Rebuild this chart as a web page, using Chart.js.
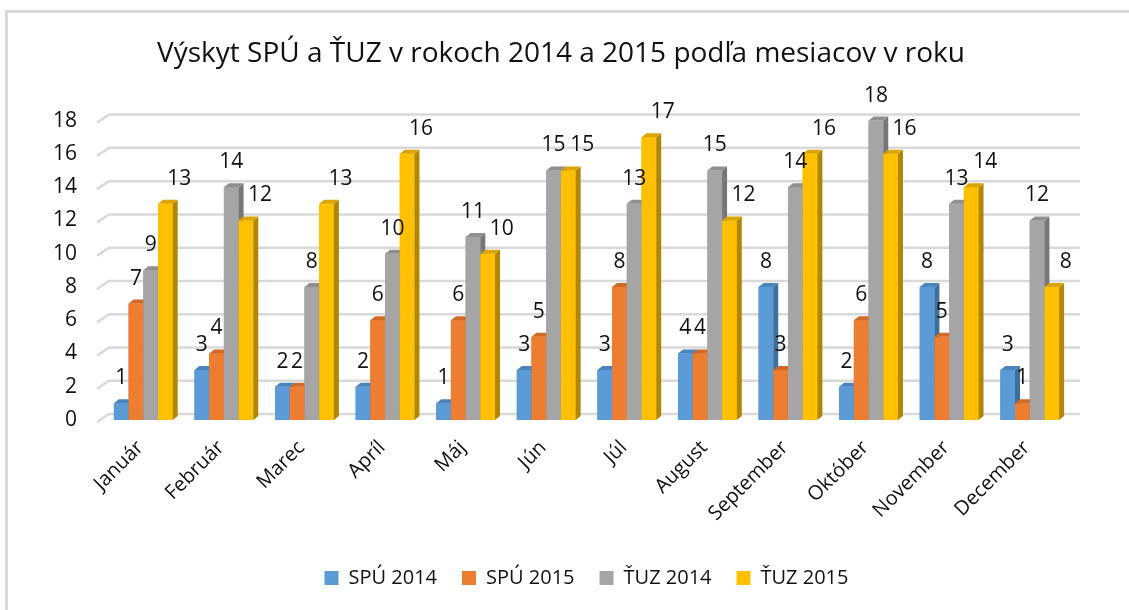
<!DOCTYPE html>
<html>
<head>
<meta charset="utf-8">
<script src="https://cdn.jsdelivr.net/npm/chart.js@4/dist/chart.umd.min.js"></script>
<style>
  html, body { margin: 0; padding: 0; background: #fff; overflow: hidden; }
  #wrap { position: relative; width: 1129px; height: 610px; overflow: hidden; }
  #frame { position: absolute; left: 5px; top: 10px; width: 1200px; height: 700px; border-left: 3px solid #d9d9d9; border-top: 3px solid #d9d9d9; }
  canvas { position: absolute; left: 0; top: 0; }
</style>
</head>
<body>
<div id="wrap">
  <div id="frame"></div>
  <canvas id="chart" width="1129" height="610"></canvas>
</div>
<script>
// months on the x axis
const months = ["Január", "Február", "Marec", "Apríl", "Máj", "Jún", "Júl", "August", "September", "Október", "November", "December"];

// series
const spu2014 = [1, 3, 2, 2, 1, 3, 3, 4, 8, 2, 8, 3];
const spu2015 = [7, 4, 2, 6, 6, 5, 8, 4, 3, 6, 5, 1];
const tuz2014 = [9, 14, 8, 10, 11, 15, 13, 15, 14, 18, 13, 12];
const tuz2015 = [13, 12, 13, 16, 10, 15, 17, 12, 16, 16, 14, 8];

const seriesNames = ["SPÚ 2014", "SPÚ 2015", "ŤUZ 2014", "ŤUZ 2015"];
const yTicks = [0, 2, 4, 6, 8, 10, 12, 14, 16, 18];

const fronts = ["#5b9bd5", "#ed7d31", "#a5a5a5", "#ffc000"];
const sides = ["#3f6f9c", "#a9561f", "#777777", "#b38600"];
const tops = ["#4a84bb", "#d06a26", "#8f8f8f", "#dba400"];
// Excel pushed the last series' labels a bit to the right
const labelShift = [0, 0, 0, 14];

const FONT = "'Open Sans', 'Noto Sans', sans-serif";
const DEPTH = 5;

// back wall gridlines with the little 3D tail on the left
const gridPlugin = {
  id: "grid3d",
  beforeDatasetsDraw(chart) {
    const ctx = chart.ctx;
    const y = chart.scales.y;
    const a = chart.chartArea;
    ctx.save();
    ctx.strokeStyle = "#d9d9d9";
    ctx.lineWidth = 2.5;
    yTicks.forEach(v => {
      const py = y.getPixelForValue(v);
      ctx.beginPath();
      ctx.moveTo(a.left - 6, py + 2);
      ctx.lineTo(a.left + 6, py - 6);
      ctx.lineTo(a.right + 10, py - 6);
      ctx.stroke();
    });
    ctx.restore();
  }
};

// redraw each column with its side and top face, left to right inside a month
const depthPlugin = {
  id: "depth3d",
  afterDatasetsDraw(chart) {
    const ctx = chart.ctx;
    const metas = chart.data.datasets.map((d, i) => chart.getDatasetMeta(i));
    ctx.save();
    months.forEach((m, j) => {
      metas.forEach((meta, i) => {
        const bar = meta.data[j];
        const l = bar.x - bar.width / 2;
        const r = bar.x + bar.width / 2;
        const t = bar.y;
        const b = bar.base;
        ctx.fillStyle = fronts[i];
        ctx.fillRect(l, t, r - l, b - t);
        ctx.fillStyle = sides[i];
        ctx.beginPath();
        ctx.moveTo(r, t);
        ctx.lineTo(r + DEPTH, t - DEPTH + 1);
        ctx.lineTo(r + DEPTH, b - DEPTH + 1);
        ctx.lineTo(r, b);
        ctx.closePath();
        ctx.fill();
        ctx.fillStyle = tops[i];
        ctx.beginPath();
        ctx.moveTo(l, t);
        ctx.lineTo(l + DEPTH, t - DEPTH + 1);
        ctx.lineTo(r + DEPTH, t - DEPTH + 1);
        ctx.lineTo(r, t);
        ctx.closePath();
        ctx.fill();
      });
    });
    ctx.restore();
  }
};

// value labels above the columns
const labelPlugin = {
  id: "valueLabels",
  afterDraw(chart) {
    const ctx = chart.ctx;
    ctx.save();
    ctx.font = "21px " + FONT;
    ctx.fillStyle = "#111";
    ctx.textAlign = "center";
    ctx.textBaseline = "middle";
    chart.data.datasets.forEach((ds, i) => {
      chart.getDatasetMeta(i).data.forEach((bar, j) => {
        ctx.fillText(String(ds.data[j]), bar.x + labelShift[i], bar.y - 25);
      });
    });
    ctx.restore();
  }
};

const allSeries = [spu2014, spu2015, tuz2014, tuz2015];

new Chart(document.getElementById("chart"), {
  type: "bar",
  data: {
    labels: months,
    datasets: allSeries.map((d, i) => ({
      label: seriesNames[i],
      data: d,
      backgroundColor: fronts[i],
      borderWidth: 0
    }))
  },
  options: {
    responsive: false,
    animation: false,
    layout: { padding: { left: 0, right: 7, top: 0, bottom: 12 } },
    datasets: { bar: { categoryPercentage: 0.73, barPercentage: 1 } },
    scales: {
      x: {
        grid: { display: false, drawTicks: false },
        border: { display: false },
        ticks: {
          color: "#111",
          font: { family: FONT, size: 20 },
          minRotation: 45,
          maxRotation: 45,
          padding: 16,
          labelOffset: -3
        },
        afterFit(scale) { scale.height = 123; }
      },
      y: {
        min: 0,
        max: 18,
        grid: { display: false, drawTicks: false },
        border: { display: false },
        ticks: {
          stepSize: 2,
          color: "#111",
          font: { family: FONT, size: 21 },
          padding: 26
        },
        afterFit(scale) { scale.width = 103; }
      },
      // empty right-hand margin of the plot
      yRight: {
        position: "right",
        min: 0,
        max: 18,
        grid: { display: false, drawTicks: false },
        border: { display: false },
        ticks: { display: false },
        afterFit(scale) { scale.width = 52; }
      }
    },
    plugins: {
      title: {
        display: true,
        text: "Výskyt SPÚ a ŤUZ v rokoch 2014 a 2015 podľa mesiacov v roku",
        color: "#111",
        font: { family: FONT, size: 28, weight: "normal" },
        padding: { top: 37, bottom: 50 }
      },
      legend: {
        position: "bottom",
        fullSize: false,
        labels: {
          color: "#111",
          font: { family: FONT, size: 20 },
          boxWidth: 14,
          boxHeight: 14,
          padding: 25
        }
      },
      tooltip: { enabled: false }
    }
  },
  plugins: [gridPlugin, depthPlugin, labelPlugin]
});
</script>
</body>
</html>
